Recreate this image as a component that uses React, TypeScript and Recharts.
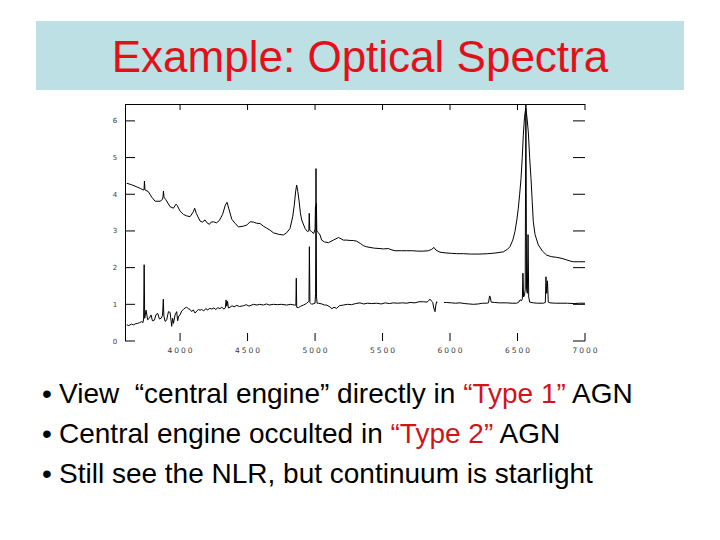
import React from 'react';
import { LineChart, Line, XAxis, YAxis } from 'recharts';

// ---- data ----
const xTicks = [4000, 4500, 5000, 5500, 6000, 6500, 7000];
const yTicks = [0, 1, 2, 3, 4, 5, 6];

const titleText = 'Example: Optical Spectra';

// [wavelength (Å), flux] — upper spectrum (Type 1 / Seyfert 1)
const type1Spectrum: [number, number][] = [
  [3605, 4.30], [3640, 4.26], [3680, 4.20], [3705, 4.16], [3725, 4.12], [3733, 4.12], [3736, 4.36], [3740, 4.12],
  [3765, 4.07], [3790, 3.92], [3815, 3.81], [3852, 3.81], [3870, 3.86], [3874, 3.95], [3877, 4.09], [3881, 3.92],
  [3895, 3.85], [3926, 3.66], [3951, 3.62], [3970, 3.73], [3978, 3.70], [4000, 3.54], [4025, 3.45], [4049, 3.41],
  [4074, 3.39], [4098, 3.52], [4108, 3.62], [4120, 3.48], [4148, 3.27], [4165, 3.24], [4185, 3.30], [4200, 3.22],
  [4217, 3.18], [4230, 3.24], [4247, 3.25], [4270, 3.22], [4290, 3.28], [4315, 3.45], [4335, 3.70], [4348, 3.78],
  [4360, 3.62], [4383, 3.32], [4407, 3.21], [4432, 3.11], [4469, 3.13], [4494, 3.16], [4519, 3.25], [4545, 3.24],
  [4568, 3.21], [4593, 3.20], [4617, 3.13], [4640, 3.08], [4667, 3.02], [4691, 2.95], [4728, 2.91], [4765, 2.89],
  [4790, 2.95], [4815, 3.07], [4835, 3.40], [4846, 3.70], [4857, 4.10], [4864, 4.25], [4872, 4.08], [4881, 3.84],
  [4891, 3.50], [4901, 3.30], [4926, 3.07], [4944, 2.98], [4954, 3.00], [4957, 3.48], [4961, 3.02], [4975, 2.98],
  [4990, 2.93], [5000, 3.05], [5003, 3.66], [5006, 3.50], [5010, 3.75], [5013, 3.00], [5025, 2.95], [5037, 2.89],
  [5049, 2.75], [5070, 2.70], [5099, 2.68], [5136, 2.75], [5173, 2.82], [5185, 2.80], [5210, 2.75], [5235, 2.75],
  [5260, 2.74], [5284, 2.74], [5309, 2.72], [5335, 2.66], [5358, 2.60], [5380, 2.57], [5407, 2.55], [5440, 2.53],
  [5481, 2.52], [5506, 2.51], [5543, 2.52], [5570, 2.48], [5593, 2.46], [5640, 2.46], [5679, 2.46], [5720, 2.46],
  [5760, 2.45], [5800, 2.45], [5840, 2.46], [5865, 2.50], [5881, 2.55], [5895, 2.48], [5926, 2.42], [5970, 2.40],
  [6010, 2.39], [6049, 2.38], [6100, 2.38], [6150, 2.37], [6222, 2.37], [6280, 2.38], [6340, 2.40], [6395, 2.43],
  [6425, 2.50], [6444, 2.57], [6465, 2.75], [6481, 2.98], [6495, 3.30], [6506, 3.62], [6516, 4.00], [6526, 4.43],
  [6535, 5.00], [6543, 5.61], [6552, 6.10], [6561, 6.35], [6570, 6.10], [6580, 5.70], [6590, 5.00], [6600, 4.43],
  [6609, 3.80], [6617, 3.25], [6630, 2.90], [6654, 2.62], [6685, 2.45], [6716, 2.34], [6750, 2.30], [6790, 2.28],
  [6830, 2.25], [6864, 2.21], [6890, 2.18], [6914, 2.16], [6950, 2.16], [7000, 2.16],
];

// [wavelength (Å), flux] — lower spectrum (Type 2 / Seyfert 2)
const type2Spectrum: [number, number | null][] = [
  [3605, 0.44], [3620, 0.42], [3640, 0.46], [3655, 0.44], [3670, 0.47], [3685, 0.48], [3700, 0.50], [3716, 0.53],
  [3725, 0.50], [3730, 0.60], [3734, 2.08], [3738, 0.62], [3748, 0.84], [3760, 0.58], [3772, 0.62], [3785, 0.71],
  [3795, 0.55], [3810, 0.57], [3822, 0.72], [3835, 0.75], [3847, 0.60], [3860, 0.62], [3870, 0.70], [3876, 1.14],
  [3880, 0.68], [3890, 0.53], [3901, 0.58], [3914, 0.80], [3926, 0.78], [3938, 0.40], [3945, 0.62], [3951, 0.48],
  [3963, 0.71], [3975, 0.80], [3982, 0.55], [3990, 0.68], [4000, 0.71], [4012, 0.82], [4025, 0.86], [4037, 0.90],
  [4049, 0.92], [4062, 0.88], [4074, 0.86], [4086, 0.80], [4098, 0.85], [4111, 0.76], [4125, 0.82], [4136, 0.86],
  [4148, 0.84], [4160, 0.86], [4175, 0.82], [4190, 0.88], [4205, 0.85], [4220, 0.89], [4235, 0.87], [4250, 0.90],
  [4265, 0.86], [4280, 0.91], [4295, 0.88], [4309, 0.92], [4325, 0.87], [4335, 0.90], [4341, 1.12], [4346, 0.95],
  [4352, 1.08], [4358, 0.90], [4370, 0.92], [4385, 0.96], [4400, 0.93], [4420, 0.97], [4440, 0.94], [4469, 0.96],
  [4490, 0.99], [4510, 0.95], [4543, 1.00], [4570, 0.98], [4590, 1.00], [4617, 0.98], [4640, 1.01], [4660, 0.98],
  [4691, 1.00], [4720, 0.99], [4750, 1.00], [4790, 0.98], [4820, 1.00], [4845, 0.98], [4858, 0.98], [4861, 1.71],
  [4864, 0.92], [4877, 0.91], [4895, 0.95], [4914, 0.98], [4935, 1.02], [4951, 1.07], [4955, 1.10], [4958, 2.57],
  [4962, 1.05], [4975, 1.00], [4990, 1.02], [5000, 1.03], [5004, 1.30], [5007, 4.70], [5011, 1.20], [5015, 1.03],
  [5025, 1.03], [5050, 1.01], [5070, 0.98], [5086, 0.98], [5110, 0.93], [5125, 0.88], [5140, 0.92], [5160, 0.89],
  [5180, 0.96], [5210, 0.98], [5240, 1.00], [5270, 0.99], [5300, 1.02], [5333, 1.04], [5360, 1.01], [5390, 1.03],
  [5420, 1.02], [5457, 1.03], [5490, 1.01], [5520, 1.04], [5550, 1.02], [5580, 1.04], [5610, 1.03], [5650, 1.04],
  [5680, 1.03], [5704, 1.05], [5740, 1.04], [5770, 1.07], [5802, 1.07], [5830, 1.06], [5852, 1.14], [5865, 1.08],
  [5872, 1.05], [5880, 0.90], [5889, 0.80], [5895, 0.98], [5901, 1.07], [5905, 1.05], [5930, null], [5955, 1.05],
  [5975, 1.05], [6010, 1.04], [6040, 1.03], [6074, 1.04], [6110, 1.02], [6140, 1.01], [6173, 1.00], [6210, 1.01],
  [6240, 1.03], [6272, 1.03], [6285, 1.04], [6293, 1.23], [6298, 1.20], [6305, 1.06], [6330, 1.05], [6365, 1.04],
  [6400, 1.04], [6420, 1.04], [6460, 1.03], [6494, 1.03], [6510, 1.06], [6519, 1.12], [6530, 1.10], [6536, 1.15],
  [6540, 1.85], [6545, 1.20], [6552, 1.25], [6557, 1.40], [6562, 7.00], [6567, 1.40], [6573, 1.30], [6578, 2.90],
  [6583, 1.20], [6590, 1.06], [6617, 1.04], [6650, 1.03], [6691, 1.03], [6706, 1.05], [6711, 1.75], [6716, 1.30],
  [6722, 1.64], [6728, 1.06], [6741, 1.04], [6780, 1.03], [6815, 1.03], [6870, 1.03], [6920, 1.02], [6960, 1.03],
  [7000, 1.03],
];

// bullet lines: [text, isRed] segments
const bulletLines: [string, boolean][][] = [
  [['View  \u201Ccentral engine\u201D directly in ', false], ['\u201CType 1\u201D', true], [' AGN', false]],
  [['Central engine occulted in ', false], ['\u201CType 2\u201D', true], [' AGN', false]],
  [['Still see the NLR, but continuum is starlight', false]],
];

const type1Data = type1Spectrum.map(([w, f]) => ({ w, f }));
const type2Data = type2Spectrum.map(([w, f]) => ({ w, f }));

const tickFont = { fontFamily: 'DejaVu Sans, sans-serif', fill: '#3a3a3a' };

const LeftTick = (props: any) => {
  const { x, y, payload } = props;
  return (
    <g>
      <line x1={x} x2={x + 10} y1={y} y2={y} stroke="#000" strokeWidth={1} />
      <text x={x - 10} y={y + 2.5} textAnchor="middle" fontSize={7} {...tickFont}>
        {payload.value}
      </text>
    </g>
  );
};

const RightTick = (props: any) => {
  const { x, y } = props;
  return <line x1={x - 12} x2={x} y1={y} y2={y} stroke="#000" strokeWidth={1} />;
};

const BottomTick = (props: any) => {
  const { x, y, payload } = props;
  return (
    <g>
      <line x1={x} x2={x} y1={y - 8} y2={y} stroke="#000" strokeWidth={1} />
      <text x={x + 1} y={y + 11.5} textAnchor="middle" fontSize={7.5} letterSpacing={2} {...tickFont}>
        {payload.value}
      </text>
    </g>
  );
};

const TopTick = (props: any) => {
  const { x, y } = props;
  return <line x1={x} x2={x} y1={y} y2={y + 6} stroke="#000" strokeWidth={1} />;
};

export default function App() {
  const textFont = 'Liberation Sans, Arial, Helvetica, sans-serif';
  return (
    <div style={{ position: 'absolute', left: 0, top: 0, width: 720, height: 540, background: '#fff', overflow: 'hidden' }}>
      <svg width={720} height={540} style={{ position: 'absolute', left: 0, top: 0 }}>
        <rect x={36} y={21} width={648} height={69} fill="#bce0e3" />
        <text x={360} y={72} textAnchor="middle" fontSize={44} fontFamily={textFont} fill="#e3101a">
          {titleText}
        </text>
        {bulletLines.map((segs, i) => (
          <g key={i}>
            <text x={42} y={403 + i * 40} fontSize={28} fontFamily={textFont} fill="#000">
              {'\u2022'}
            </text>
            <text x={59} y={403 + i * 40} fontSize={28} fontFamily={textFont} fill="#000" style={{ whiteSpace: 'pre' }}>
              {segs.map(([t, red], j) => (
                <tspan key={j} fill={red ? '#d0141c' : '#000'}>{t}</tspan>
              ))}
            </text>
          </g>
        ))}
      </svg>
      <div style={{ position: 'absolute', left: 0, top: 0 }}>
        <LineChart width={720} height={360} margin={{ top: 103, right: 134, bottom: 18, left: 124 }}>
          <XAxis
            xAxisId="b"
            type="number"
            dataKey="w"
            domain={[3592, 7000]}
            allowDataOverflow
            ticks={xTicks}
            interval={0}
            height={1}
            tickSize={0}
            tickMargin={0}
            tickLine={false}
            axisLine={false}
            tick={<BottomTick />}
          />
          <XAxis
            xAxisId="t"
            orientation="top"
            type="number"
            dataKey="w"
            domain={[3592, 7000]}
            allowDataOverflow
            ticks={xTicks}
            interval={0}
            height={1}
            tickSize={0}
            tickMargin={0}
            tickLine={false}
            axisLine={false}
            tick={<TopTick />}
          />
          <YAxis
            yAxisId="l"
            type="number"
            domain={[0, 6.46]}
            allowDataOverflow
            ticks={yTicks}
            interval={0}
            width={1}
            tickSize={0}
            tickMargin={0}
            tickLine={false}
            axisLine={false}
            tick={<LeftTick />}
          />
          <YAxis
            yAxisId="r"
            orientation="right"
            type="number"
            domain={[0, 6.46]}
            allowDataOverflow
            ticks={yTicks}
            interval={0}
            width={1}
            tickSize={0}
            tickMargin={0}
            tickLine={false}
            axisLine={false}
            tick={<RightTick />}
          />
          <Line
            xAxisId="b"
            yAxisId="l"
            data={type1Data}
            dataKey="f"
            type="linear"
            stroke="#000"
            strokeWidth={1}
            dot={false}
            isAnimationActive={false}
          />
          <Line
            xAxisId="b"
            yAxisId="l"
            data={type2Data}
            dataKey="f"
            type="linear"
            stroke="#000"
            strokeWidth={1}
            dot={false}
            isAnimationActive={false}
          />
        </LineChart>
      </div>
      <svg width={720} height={540} style={{ position: 'absolute', left: 0, top: 0, pointerEvents: 'none' }}>
        <line x1={125} x2={585} y1={104.5} y2={104.5} stroke="#000" strokeWidth={1} />
        <line x1={125.5} x2={125.5} y1={104} y2={341} stroke="#000" strokeWidth={1} />
      </svg>
    </div>
  );
}
